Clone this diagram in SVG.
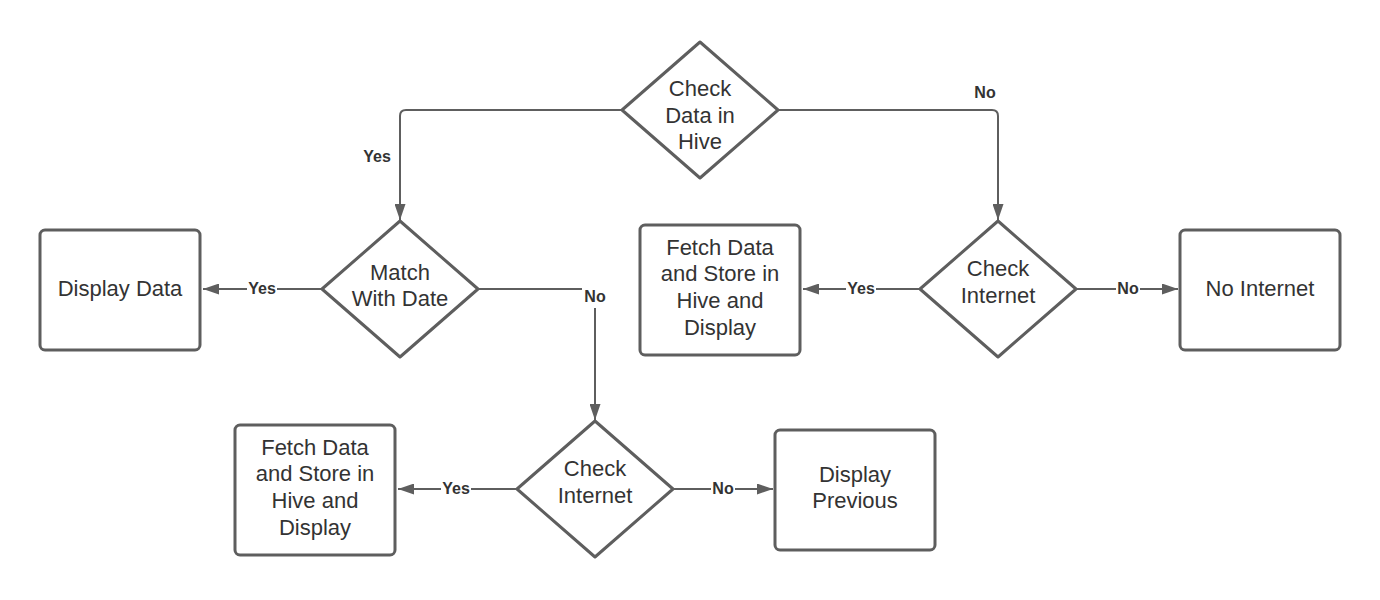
<svg xmlns="http://www.w3.org/2000/svg" width="1380" height="600" viewBox="0 0 1380 600">
<style>
.node{fill:#fff;stroke:#5e5e5e;stroke-width:3;stroke-linejoin:round}
.t{font-family:"Liberation Sans",Arial,sans-serif;font-size:22px;fill:#333;text-anchor:middle}
.c{fill:none;stroke:#5e5e5e;stroke-width:2}
.l{font-family:"Liberation Sans",Arial,sans-serif;font-size:16px;font-weight:bold;fill:#333;text-anchor:middle}
.bg{fill:#fff}
</style>
<defs>
<marker id="ah" viewBox="0 0 16 11" refX="16" refY="5.5" markerWidth="16" markerHeight="11" markerUnits="userSpaceOnUse" orient="auto">
<path d="M0,0 L16,5.5 L0,11 Z" fill="#5e5e5e"/>
</marker>
</defs>
<rect width="1380" height="600" fill="#fff"/>
<g id="connectors">
<path class="c" d="M622,110 H406 Q400,110 400,116 V220" marker-end="url(#ah)"/>
<path class="c" d="M778,110 H992 Q998,110 998,116 V220" marker-end="url(#ah)"/>
<path class="c" d="M322,289 H203" marker-end="url(#ah)"/>
<path class="c" d="M478,289 H595 V420" marker-end="url(#ah)"/>
<path class="c" d="M920,289 H803" marker-end="url(#ah)"/>
<path class="c" d="M1076,289 H1178" marker-end="url(#ah)"/>
<path class="c" d="M517,489 H398" marker-end="url(#ah)"/>
<path class="c" d="M673,489 H773" marker-end="url(#ah)"/>
<rect class="bg" x="361" y="147" width="32" height="19"/>
<text class="l" x="377" y="162">Yes</text>
<rect class="bg" x="972" y="83" width="26" height="19"/>
<text class="l" x="985" y="98">No</text>
<rect class="bg" x="247" y="279" width="30" height="19"/>
<text class="l" x="262" y="294">Yes</text>
<rect class="bg" x="582" y="286" width="26" height="22"/>
<text class="l" x="595" y="302">No</text>
<rect class="bg" x="846" y="279" width="30" height="19"/>
<text class="l" x="861" y="294">Yes</text>
<rect class="bg" x="1116" y="279" width="24" height="19"/>
<text class="l" x="1128" y="294">No</text>
<rect class="bg" x="441" y="479" width="30" height="19"/>
<text class="l" x="456" y="494">Yes</text>
<rect class="bg" x="711" y="479" width="24" height="19"/>
<text class="l" x="723" y="494">No</text>
</g>
<g id="check-hive">
<path class="node" d="M700,42 L778,110 L700,178 L622,110 Z"/>
<text class="t" x="700" y="96">Check</text>
<text class="t" x="700" y="122.5">Data in</text>
<text class="t" x="700" y="149">Hive</text>
</g>
<g id="match-date">
<path class="node" d="M400,221 L478,289 L400,357 L322,289 Z"/>
<text class="t" x="400" y="280">Match</text>
<text class="t" x="400" y="306">With Date</text>
</g>
<g id="display-data">
<rect class="node" x="40" y="230" width="160" height="120" rx="5"/>
<text class="t" x="120" y="296">Display Data</text>
</g>
<g id="check-internet-1">
<path class="node" d="M998,221 L1076,289 L998,357 L920,289 Z"/>
<text class="t" x="998" y="276">Check</text>
<text class="t" x="998" y="303">Internet</text>
</g>
<g id="fetch-1">
<rect class="node" x="640" y="225" width="160" height="130" rx="5"/>
<text class="t" x="720" y="255">Fetch Data</text>
<text class="t" x="720" y="281">and Store in</text>
<text class="t" x="720" y="308">Hive and</text>
<text class="t" x="720" y="335">Display</text>
</g>
<g id="no-internet">
<rect class="node" x="1180" y="230" width="160" height="120" rx="5"/>
<text class="t" x="1260" y="296">No Internet</text>
</g>
<g id="check-internet-2">
<path class="node" d="M595,421 L673,489 L595,557 L517,489 Z"/>
<text class="t" x="595" y="476">Check</text>
<text class="t" x="595" y="503">Internet</text>
</g>
<g id="fetch-2">
<rect class="node" x="235" y="425" width="160" height="130" rx="5"/>
<text class="t" x="315" y="455">Fetch Data</text>
<text class="t" x="315" y="481">and Store in</text>
<text class="t" x="315" y="508">Hive and</text>
<text class="t" x="315" y="535">Display</text>
</g>
<g id="display-previous">
<rect class="node" x="775" y="430" width="160" height="120" rx="5"/>
<text class="t" x="855" y="482">Display</text>
<text class="t" x="855" y="508">Previous</text>
</g>
</svg>
